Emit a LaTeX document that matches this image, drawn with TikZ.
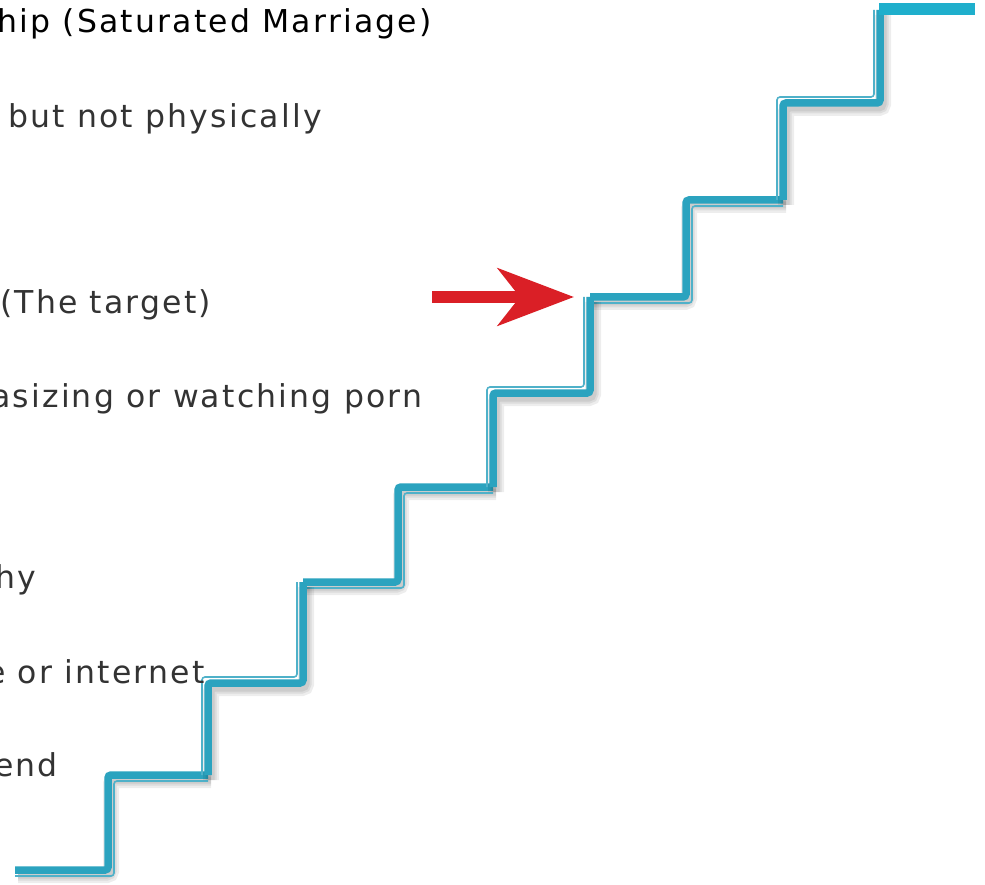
\documentclass[tikz,border=0pt]{standalone}
\usepackage{fontspec}
\usetikzlibrary{arrows.meta}
\newfontfamily\stairfont[LetterSpace=7]{DejaVu Sans}
\definecolor{stairteal}{HTML}{2BA3BF}
\definecolor{stairthin}{HTML}{4FB1C9}
\definecolor{stairtop}{HTML}{1FAFCC}
\definecolor{arrowred}{HTML}{DA1F26}
\definecolor{labelgray}{HTML}{333333}
\tikzset{
	treadline/.style={line width=7.5pt, stairteal, rounded corners=3pt},
	thinline/.style={line width=1.6pt, stairthin, rounded corners=3pt, shorten <=-6pt, shorten >=6pt},
	stairshadow/.style={line width=#1, black, opacity=0.07, rounded corners=4pt},
	steplabel/.style={anchor=base west, inner sep=0pt, text=labelgray, font={\stairfont\fontsize{31.5pt}{36pt}\selectfont}},
	redarrow/.style={arrowred, line width=12pt, -{Stealth[length=76pt, width=57pt, inset=22pt]}},
}

\begin{document}
\begin{tikzpicture}[x=1pt, y=-1pt]
		\path[fill=white, use as bounding box] (0,0) rectangle (985,885);
		\begin{scope}
			\foreach \xa/\xb/\xc/\ya/\yb in {15/108/208/870/775, 303/398/493/582/487, 590/686/783/297/200} {
				\foreach \w in {16,11,7}
					\draw[stairshadow=\w pt, shift={(3,5)}] (\xa,\ya) -- (\xb,\ya) -- (\xb,\yb) -- (\xc,\yb);
				\draw[thinline, shift={(6,6)}] (\xa,\ya) -- (\xb,\ya) -- (\xb,\yb) -- (\xc,\yb);
				\draw[treadline] (\xa,\ya) -- (\xb,\ya) -- (\xb,\yb) -- (\xc,\yb);
			}
			\foreach \xa/\xb/\ya/\yb/\yc in {208/303/775/683/582, 493/590/487/393/297, 783/880/200/103/10} {
				\foreach \w in {16,11,7}
					\draw[stairshadow=\w pt, shift={(3,5)}] (\xa,\ya) -- (\xa,\yb) -- (\xb,\yb) -- (\xb,\yc);
				\draw[thinline, shift={(-6,-6)}] (\xa,\ya) -- (\xa,\yb) -- (\xb,\yb) -- (\xb,\yc);
				\draw[treadline] (\xa,\ya) -- (\xa,\yb) -- (\xb,\yb) -- (\xb,\yc);
			}
			\draw[stairtop, line width=12pt] (879,9) -- (975,9);
		\end{scope}
		
		\coordinate (target) at (590,297);
		\coordinate (arrowtail) at (432,297);
		\draw[redarrow, shorten >=16pt] (arrowtail) -- (target);
		
		\node[steplabel, text=black] (l1) at (-3,33) {hip (Saturated Marriage)};
		\node[steplabel] (l2) at (8,128) {but not physically};
		\node[steplabel] (l3) at (0,313) {(The target)};
		\node[steplabel] (l4) at (-9,407) {asizing or watching porn};
		\node[steplabel] (l5) at (-5,588) {hy};
		\node[steplabel] (l6) at (-14,683) {e or internet};
		\node[steplabel] (l7) at (-6,776) {end};
	\end{tikzpicture}
\end{document}
